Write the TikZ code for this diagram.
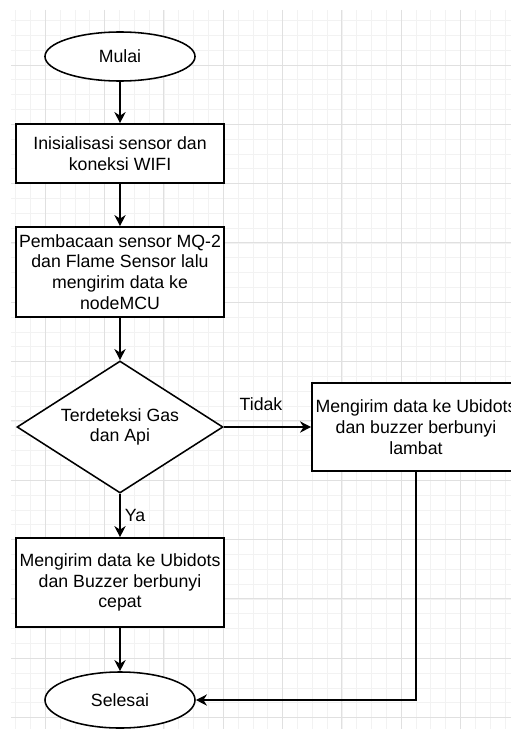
\documentclass[tikz,border=0pt]{standalone}
\usepackage{fontspec}
\setmainfont{Liberation Sans}
\usetikzlibrary{arrows.meta, positioning, shapes.geometric}

\begin{document}
\begin{tikzpicture}[
        x=0.025cm, y=-0.025cm,
        box/.style  = {draw, line width=1.1pt, fill=white, minimum width=5.2cm, inner sep=0pt, align=center, font=\fontsize{12.6}{14.8}\selectfont},
        term/.style = {draw, ellipse, line width=1.1pt, fill=white, minimum width=3.75cm, inner sep=0pt, font=\fontsize{12.6}{14.8}\selectfont},
        dec/.style  = {draw, diamond, line width=1.1pt, fill=white, minimum width=5.15cm, minimum height=3.3cm, aspect=1.56, inner sep=0pt, align=center, font=\fontsize{12.6}{14.8}\selectfont},
        ar/.style   = {-{Stealth[length=2.8mm, width=2.8mm]}, line width=1.1pt},
        lbl/.style  = {inner sep=0pt, font=\fontsize{12.6}{14.8}\selectfont},
        minor/.style = {draw=black!5, line width=0.5pt},
        major/.style = {draw=black!12, line width=0.7pt}
    ]
        \useasboundingbox (0,0) rectangle (511,729);
        \clip (0,0) rectangle (511,729);

        \foreach \i in {0,...,33} {
            \draw[minor] ({15.6+14.83*\i},10) -- ({15.6+14.83*\i},729);
        }
        \foreach \j in {1,...,48} {
            \draw[minor] (11,{5.68+14.83*\j}) -- (511,{5.68+14.83*\j});
        }
        \foreach \i in {0,...,8} {
            \draw[major] ({45.2+59.32*\i},10) -- ({45.2+59.32*\i},729);
        }
        \foreach \j in {1,...,12} {
            \draw[major] (11,{5.68+59.32*\j}) -- (511,{5.68+59.32*\j});
        }

        \node[term] (mulai)   at (120,56.5) [minimum height=1.225cm] {Mulai};
        \node[box]  (init)    at (120,153.5) [minimum height=1.475cm] {Inisialisasi sensor dan\\koneksi WIFI};
        \node[box]  (baca)    at (120,272)  [minimum height=2.25cm] {Pembacaan sensor MQ-2\\dan Flame Sensor lalu\\mengirim data ke\\nodeMCU};
        \node[dec]  (cek)     at (120,427)  {Terdeteksi Gas\\dan Api};
        \node[box]  (lambat)  at (416,427)  [minimum height=2.2cm] {Mengirim data ke Ubidots\\dan buzzer berbunyi\\lambat};
        \node[box]  (cepat)   at (120,582.5) [minimum height=2.225cm] {Mengirim data ke Ubidots\\dan Buzzer berbunyi\\cepat};
        \node[term] (selesai) at (120,700)  [minimum height=1.4cm] {Selesai};

        \draw[ar] (mulai) -- (init);
        \draw[ar] (init)  -- (baca);
        \draw[ar] (baca)  -- (cek);
        \draw[ar] (cek)   -- (lambat);
        \draw[ar] (cek)   -- (cepat);
        \draw[ar] (cepat) -- (selesai);
        \draw[ar] (lambat.south) |- (selesai.east);

        \node[lbl] (tidak) at (261,404) {Tidak};
        \node[lbl] (ya)    at (135,515) {Ya};
    \end{tikzpicture}
\end{document}
